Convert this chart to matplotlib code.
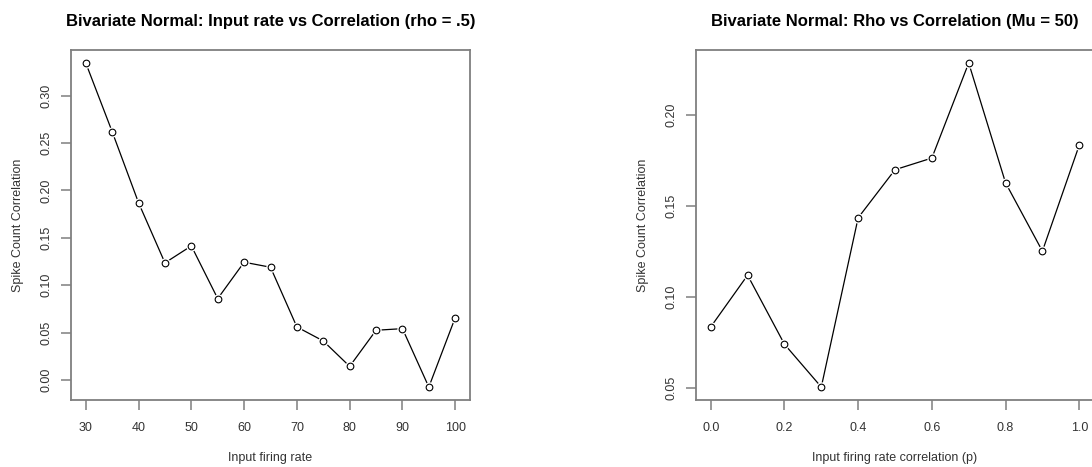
import matplotlib
matplotlib.use("Agg")
import matplotlib.pyplot as plt

plt.rcParams['font.family'] = ['Liberation Sans', 'DejaVu Sans']

# Left panel data
rate = [30, 35, 40, 45, 50, 55, 60, 65, 70, 75, 80, 85, 90, 95, 100]
corr_rate = [0.3345, 0.262, 0.187, 0.1236, 0.1415, 0.0859, 0.1243, 0.119,
             0.056, 0.0412, 0.0144, 0.0525, 0.0542, -0.0074, 0.0658]
rate_ticks = [30, 40, 50, 60, 70, 80, 90, 100]
rate_yticks = [0.00, 0.05, 0.10, 0.15, 0.20, 0.25, 0.30]

# Right panel data
rho = [0.0, 0.1, 0.2, 0.3, 0.4, 0.5, 0.6, 0.7, 0.8, 0.9, 1.0]
corr_rho = [0.0837, 0.1121, 0.0742, 0.0507, 0.1436, 0.170, 0.1764, 0.2286,
            0.1628, 0.1253, 0.1835]
rho_ticks = [0.0, 0.2, 0.4, 0.6, 0.8, 1.0]
rho_yticks = [0.05, 0.10, 0.15, 0.20]

W, H = 1092, 467
fig = plt.figure(figsize=(W / 100, H / 100), dpi=100)
BOXC = '#7f7f7f'
TXTC = '#333333'


def rlim(v):
    lo, hi = min(v), max(v)
    d = (hi - lo) * 0.04
    return lo - d, hi + d


def panel(rect, x, y, xt, yt, xfmt, yfmt, title, xlabel, ylabel):
    ax = fig.add_axes(rect)
    ax.plot(x, y, color='black', lw=0.9, zorder=2)
    ax.plot(x, y, ls='none', marker='o', ms=7.5, mfc='white', mec='none', zorder=3)
    ax.plot(x, y, ls='none', marker='o', ms=4.8, mfc='none', mec='black', mew=0.8, zorder=4)
    ax.set_xlim(*rlim(x))
    ax.set_ylim(*rlim(y))
    ax.set_xticks(xt)
    ax.set_xticklabels([xfmt(v) for v in xt])
    ax.set_yticks(yt)
    ax.set_yticklabels([yfmt(v) for v in yt], rotation=90, va='center')
    for s in ax.spines.values():
        s.set_color(BOXC)
        s.set_linewidth(1.3)
    ax.tick_params(direction='out', length=7, width=1.1, color=BOXC,
                   labelsize=9, labelcolor=TXTC)
    ax.tick_params(axis='x', pad=9)
    ax.tick_params(axis='y', pad=6)
    ax.set_title(title, fontsize=12, fontweight='bold', pad=17)
    ax.set_xlabel(xlabel, fontsize=9, color=TXTC, labelpad=13)
    ax.set_ylabel(ylabel, fontsize=9, color=TXTC, labelpad=12)
    return ax


panel([71 / W, 67 / H, 399 / W, 350 / H], rate, corr_rate, rate_ticks, rate_yticks,
      lambda v: f"{v:d}", lambda v: f"{v:.2f}",
      "Bivariate Normal: Input rate vs Correlation (rho = .5)",
      "Input firing rate", "Spike Count Correlation")

panel([696 / W, 67 / H, 398 / W, 350 / H], rho, corr_rho, rho_ticks, rho_yticks,
      lambda v: f"{v:.1f}", lambda v: f"{v:.2f}",
      "Bivariate Normal: Rho vs Correlation (Mu = 50)",
      "Input firing rate correlation (p)", "Spike Count Correlation")

fig.savefig("out.png", dpi=100)
